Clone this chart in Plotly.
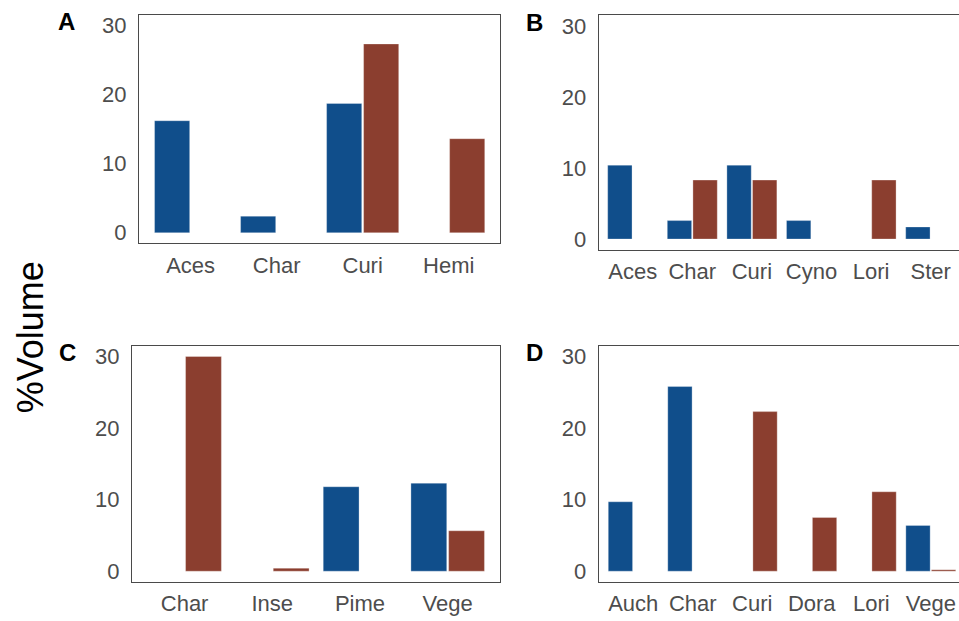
import plotly.graph_objects as go

# ---- data ----
a_cats = ["Aces", "Char", "Curi", "Hemi"]
a_blue = [16.2, 2.4, 18.7, 0]
a_red = [0, 0, 27.3, 13.6]

b_cats = ["Aces", "Char", "Curi", "Cyno", "Lori", "Ster"]
b_blue = [10.4, 2.6, 10.4, 2.6, 0, 1.7]
b_red = [0, 8.3, 8.3, 0, 8.3, 0]

c_cats = ["Char", "Inse", "Pime", "Vege"]
c_blue = [0, 0, 11.8, 12.3]
c_red = [30.0, 0.42, 0, 5.65]

d_cats = ["Auch", "Char", "Curi", "Dora", "Lori", "Vege"]
d_blue = [9.7, 25.8, 0, 0, 0, 6.4]
d_red = [0, 0, 22.3, 7.5, 11.1, 0.2]

y_ticks = [0, 10, 20, 30]

BLUE = "#104E8B"
RED = "#8B3E2F"
W, H = 959, 621
FONT = "Liberation Sans, Arial, sans-serif"

panels = [
    # cats, blue, red, x px, y px (top,bottom), x range, letter, letter pos (px)
    (a_cats, a_blue, a_red, (139, 500.3), (13, 242.7), [-0.6, 3.6], "A", (66, 20)),
    (b_cats, b_blue, b_red, (598.7, 959), (13.3, 249.3), [-0.57, 5.475], "B", (534, 21)),
    (c_cats, c_blue, c_red, (132, 500.3), (346, 583.7), [-0.6, 3.6], "C", (67, 353)),
    (d_cats, d_blue, d_red, (598.7, 959), (346, 583.7), [-0.58, 5.474], "D", (534, 353)),
]


def px(x):
    return x / W


def py(y):
    return 1 - y / H


fig = go.Figure()
layout = dict(
    width=W, height=H,
    margin=dict(l=0, r=0, t=0, b=0),
    paper_bgcolor="white", plot_bgcolor="white",
    barmode="group", bargap=0.14, bargroupgap=0.05,
    showlegend=False,
    font=dict(family=FONT, color="#4D4D4D", size=22),
)
annotations = []
AXC = "#4A4A4A"
for i, (cats, blue, red, xd, yd, xr, letter, lp) in enumerate(panels):
    n = "" if i == 0 else str(i + 1)
    xa, ya = "x" + n, "y" + n
    for vals, col in ((blue, BLUE), (red, RED)):
        fig.add_trace(go.Bar(
            x=cats, y=vals, xaxis=xa, yaxis=ya,
            marker=dict(color=col, line=dict(color="rgba(255,255,255,0.5)", width=0.6)),
            hoverinfo="x+y",
        ))
    layout["xaxis" + n] = dict(
        domain=[px(xd[0]), min(px(xd[1]), 1.0)], anchor=ya, type="category",
        range=xr, showgrid=False, zeroline=False,
        showline=True, mirror=True, linecolor=AXC, linewidth=1.3,
        ticks="outside", ticklen=2, tickcolor="rgba(0,0,0,0)",
        tickfont=dict(size=22, color="#4D4D4D", family=FONT),
    )
    layout["yaxis" + n] = dict(
        domain=[py(yd[1]), py(yd[0])], anchor=xa,
        range=[-1.5, 31.5], tickvals=y_ticks, showgrid=False, zeroline=False,
        showline=True, mirror=(i in (0, 2)), linecolor=AXC, linewidth=1.3,
        ticks="outside", ticklen=7, tickcolor="rgba(0,0,0,0)",
        tickfont=dict(size=22, color="#4D4D4D", family=FONT),
    )
    annotations.append(dict(
        text="<b>%s</b>" % letter, x=px(lp[0]), y=py(lp[1]),
        xref="paper", yref="paper", showarrow=False,
        xanchor="center", yanchor="middle",
        font=dict(size=24, color="black", family=FONT),
    ))

annotations.append(dict(
    text="%Volume", x=px(30), y=py(337.5), xref="paper", yref="paper",
    showarrow=False, textangle=-90, xanchor="center", yanchor="middle",
    font=dict(size=36, color="black", family=FONT),
))
layout["annotations"] = annotations
fig.update_layout(**layout)
fig.write_html(
    "out.html",
    config={"displayModeBar": False},
    post_script="document.body.style.margin='0';document.body.style.overflow='hidden';",
)
